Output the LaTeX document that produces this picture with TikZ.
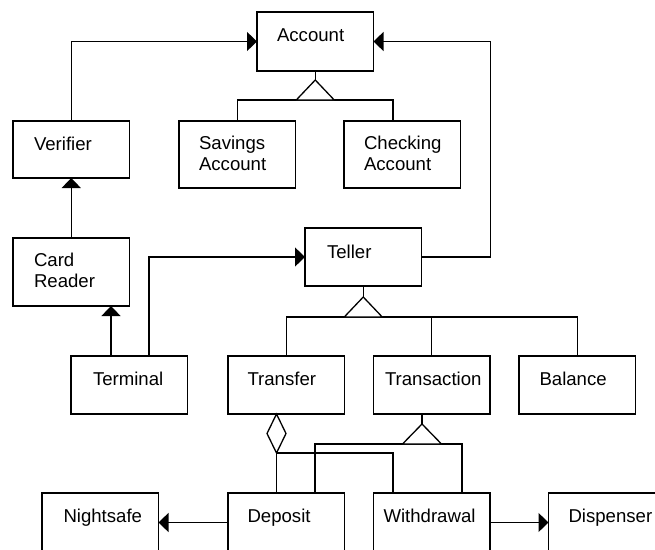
\documentclass[tikz,border=0pt]{standalone}
\usepackage{fontspec}
\setmainfont{Liberation Sans}
\usetikzlibrary{arrows.meta}
\begin{document}
\begin{tikzpicture}[x=1pt,y=-1pt,
  box/.style={draw, line width=1.3pt, rectangle, anchor=north west, minimum width=116.5pt, minimum height=58pt, inner sep=0pt, outer sep=0pt},
  lbl/.style={anchor=base west, inner sep=0pt, outer sep=0pt, font=\fontsize{18.6}{21}\selectfont, align=left},
  con/.style={line width=1.3pt},
  arr/.style={con, -{Triangle[length=10pt,width=19pt]}},
]
\useasboundingbox (0,0) rectangle (655,549);
\clip (0,0) rectangle (655,549);
% boxes
\node[box, minimum height=59pt] (acc) at (257,12) {};
\node[box, minimum height=67pt] (sav) at (179,121) {};
\node[box, minimum height=67pt] (chk) at (344,121) {};
\node[box, minimum height=57pt] (ver) at (13,121) {};
\node[box, minimum height=68pt] (crd) at (13,238) {};
\node[box] (tel) at (305,228) {};
\node[box] (ter) at (71,356) {};
\node[box] (tra) at (228,356) {};
\node[box] (trn) at (373.5,356) {};
\node[box] (bal) at (519,356) {};
\node[box, minimum height=59pt] (nsf) at (42,493) {};
\node[box, minimum height=59pt] (dep) at (228,493) {};
\node[box, minimum height=59pt] (wdr) at (373.5,493) {};
\node[box, minimum height=59pt] (dsp) at (548.5,493) {};
% labels
\node[lbl] at ([shift={(20,29.5)}]acc.north west) {Account};
\node[lbl] at ([shift={(20,49.5)}]sav.north west) {Savings\\Account};
\node[lbl] at ([shift={(20,49.5)}]chk.north west) {Checking\\Account};
\node[lbl] at ([shift={(21,29.5)}]ver.north west) {Verifier};
\node[lbl] at ([shift={(21,49.5)}]crd.north west) {Card\\Reader};
\node[lbl] at ([shift={(22,30)}]tel.north west) {Teller};
\node[lbl] at ([shift={(22,29.5)}]ter.north west) {Terminal};
\node[lbl] at ([shift={(19.5,29.5)}]tra.north west) {Transfer};
\node[lbl] at ([shift={(11.5,29.5)}]trn.north west) {Transaction};
\node[lbl] at ([shift={(20.5,29.5)}]bal.north west) {Balance};
\node[lbl] at ([shift={(21.5,29.5)}]nsf.north west) {Nightsafe};
\node[lbl] at ([shift={(19.5,29.5)}]dep.north west) {Deposit};
\node[lbl] at ([shift={(10,29.5)}]wdr.north west) {Withdrawal};
\node[lbl] at ([shift={(20,29.5)}]dsp.north west) {Dispenser};
% associations
\draw[arr] (ver.north) |- (acc.west);
\draw[arr] (tel.east) -- ++(69,0) |- (acc.east);
\draw[arr] (crd.north) -- (ver.south);
\coordinate (terA) at ([xshift=40pt]ter.north west);
\draw[arr] (terA) -- (terA |- crd.south);
\coordinate (terB) at ([xshift=78pt]ter.north west);
\draw[arr] (terB) |- (tel.west);
\draw[arr] (dep.west) -- (nsf.east);
\draw[arr] (wdr.east) -- (dsp.west);
% generalization Account
\coordinate (accA) at ([yshift=-9pt]acc.south);
\draw[con] (acc.south) -- (accA);
\coordinate (chkIn) at ([xshift=49pt]chk.north west);
\draw[con] (sav.north) |- ([yshift=21pt]chkIn) -- (chkIn);
\draw[con, fill=white, line join=miter] (accA) -- ++(-19,20) -- ++(38,0) -- cycle;
% generalization Teller
\coordinate (telA) at ([yshift=-11pt]tel.south);
\draw[con] (tel.south) -- (telA);
\draw[con] (tra.north) -- ++(0,-39) -| (bal.north);
\draw[con] (trn.north) -- ++(0,-39);
\draw[con, fill=white] (telA) -- ++(-19,20) -- ++(38,0) -- cycle;
% generalization Transaction
\coordinate (trnS) at ([xshift=48.5pt]trn.south west);
\coordinate (trnA) at ([xshift=48.5pt,yshift=-10pt]trn.south west);
\draw[con] (trnS) -- (trnA);
\coordinate (depB) at ([xshift=87pt]dep.north west);
\coordinate (wdrB) at ([xshift=88.5pt]wdr.north west);
\draw[con] (depB) |- ([yshift=49pt]wdrB) -- (wdrB);
\draw[con, fill=white] (trnA) -- ++(-19.5,20) -- ++(39,0) -- cycle;
% aggregation Transfer
\coordinate (diaT) at ([xshift=48.5pt]tra.south west);
\coordinate (depA) at ([xshift=48.5pt]dep.north west);
\coordinate (wdrA) at ([xshift=19.5pt]wdr.north west);
\draw[con, fill=white] (diaT) -- ++(9.5,19.5) -- ++(-9.5,19.5) coordinate (diaB) -- ++(-9.5,-19.5) -- cycle;
\draw[con] (diaB) -- (depA);
\draw[con] (diaB) -| (wdrA);
\end{tikzpicture}
\end{document}
